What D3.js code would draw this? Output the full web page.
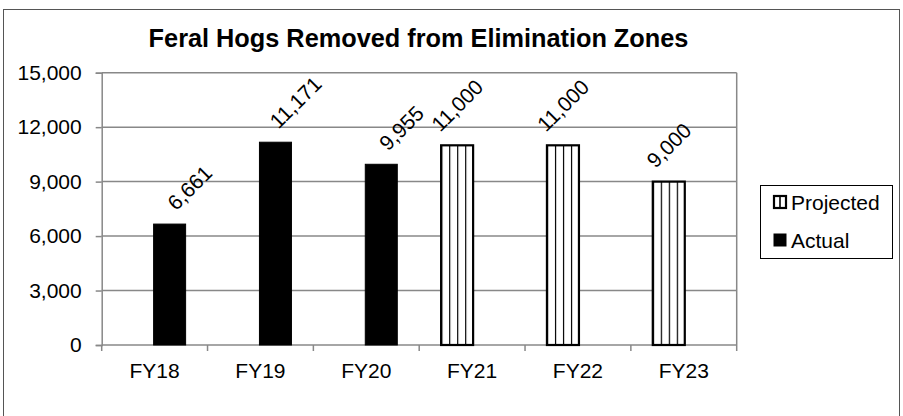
<!DOCTYPE html>
<html><head><meta charset="utf-8">
<script src="https://cdn.jsdelivr.net/npm/d3@7"></script>
<style>
html,body{margin:0;padding:0;background:#fff;}
svg{display:block;font-family:Arial,"Liberation Sans",sans-serif;}
</style></head>
<body>
<svg id="c" width="903" height="416"></svg>
<script>
const title = "Feral Hogs Removed from Elimination Zones";
const categories = ["FY18","FY19","FY20","FY21","FY22","FY23"];
const seriesNames = ["Projected","Actual"];
const projected = [null,null,null,11000,11000,9000];
const actual = [6661,11171,9955,null,null,null];
const yTicks = [0,3000,6000,9000,12000,15000];

const svg = d3.select("#c");
const plot = {left:101.7, right:736.7, top:72.7, bottom:345};

// outer chart border
svg.append("rect").attr("x",3.5).attr("y",9.5).attr("width",896).attr("height",420)
  .attr("fill","#fff").attr("stroke","#555").attr("stroke-width",1);

const defs = svg.append("defs");
const pat = defs.append("pattern").attr("id","stripes")
  .attr("patternUnits","objectBoundingBox").attr("width",0.25).attr("height",1);
pat.append("rect").attr("width",40).attr("height",400).attr("fill","#fff");
pat.append("line").attr("x1",0).attr("x2",0).attr("y1",0).attr("y2",400)
  .attr("stroke","#000").attr("stroke-width",2.4);

const x = d3.scaleBand().domain(categories).range([plot.left, plot.right]).padding(0);
const y = d3.scaleLinear().domain([0,15000]).range([plot.bottom, plot.top]);
const x1 = d3.scalePoint().domain(seriesNames).range([x.bandwidth()/2-15, x.bandwidth()/2+15]);
const barW = 32;

// gridlines
svg.append("g").selectAll("line").data(yTicks.filter(d=>d>0)).join("line")
  .attr("x1",plot.left).attr("x2",plot.right)
  .attr("y1",d=>y(d)).attr("y2",d=>y(d))
  .attr("stroke","#888").attr("stroke-width",1.5);
svg.append("line").attr("x1",plot.right).attr("x2",plot.right)
  .attr("y1",plot.top).attr("y2",plot.bottom).attr("stroke","#888").attr("stroke-width",1.5);

// y axis
const yAxis = d3.axisLeft(y).tickValues(yTicks).tickFormat(d3.format(",")).tickSize(6).tickPadding(14);
const gy = svg.append("g").attr("transform",`translate(${plot.left},0)`).call(yAxis);
gy.select(".domain").attr("stroke","#888").attr("stroke-width",1.5);
gy.selectAll(".tick line").attr("stroke","#888").attr("stroke-width",1.5);
gy.selectAll("text").attr("font-size",21).attr("fill","#000").attr("font-family","Arial,'Liberation Sans',sans-serif");

// x axis
const gx = svg.append("g").attr("transform",`translate(0,${plot.bottom})`);
gx.append("line").attr("x1",plot.left).attr("x2",plot.right).attr("y1",0).attr("y2",0)
  .attr("stroke","#888").attr("stroke-width",1.5);
const bounds = categories.map(c=>x(c)).concat([plot.right]);
gx.selectAll("line.t").data(bounds).join("line").attr("class","t")
  .attr("x1",d=>d).attr("x2",d=>d).attr("y1",0).attr("y2",6)
  .attr("stroke","#888").attr("stroke-width",1.5);
gx.selectAll("text").data(categories).join("text")
  .attr("x",d=>x(d)+x.bandwidth()/2).attr("y",33)
  .attr("text-anchor","middle").attr("font-size",21).attr("fill","#000").text(d=>d);

// bars
const rows = [];
categories.forEach((c,i)=>{
  if (projected[i]!=null) rows.push({c, s:"Projected", v:projected[i]});
  if (actual[i]!=null) rows.push({c, s:"Actual", v:actual[i]});
});
svg.append("g").selectAll("rect").data(rows).join("rect")
  .attr("x",d=>x(d.c)+x1(d.s)-barW/2)
  .attr("y",d=>y(d.v))
  .attr("width",barW)
  .attr("height",d=>y(0)-y(d.v))
  .attr("fill",d=>d.s==="Actual"?"#000":"url(#stripes)")
  .attr("stroke","#000")
  .attr("stroke-width",d=>d.s==="Actual"?1:2.2);

// data labels
const fmt = d3.format(",");
const lbl = svg.append("g").selectAll("text").data(rows).join("text")
  .attr("font-size",21).attr("fill","#000").attr("text-anchor","middle")
  .attr("dominant-baseline","central").text(d=>fmt(d.v));
lbl.each(function(d){
  const w = this.getComputedTextLength();
  const half = (w+15)/(2*Math.SQRT2);
  const cx = x(d.c)+x1(d.s) + (d.s==="Actual"?20:0);
  const cy = y(d.v) - 12.5 - half;
  d3.select(this).attr("transform",`translate(${cx},${cy}) rotate(-45)`);
});

// title
svg.append("text").attr("x",418.5).attr("y",47).attr("text-anchor","middle")
  .attr("font-size",25.3).attr("font-weight","bold").attr("fill","#000").text(title);

// legend
const lg = svg.append("g");
lg.append("rect").attr("x",760.5).attr("y",185.5).attr("width",132).attr("height",73)
  .attr("fill","#fff").attr("stroke","#000").attr("stroke-width",1);
const legY = d3.scalePoint().domain(seriesNames).range([202,240]);
lg.selectAll("rect.sw").data(seriesNames).join("rect").attr("class","sw")
  .attr("x",774).attr("y",d=>legY(d)-6).attr("width",12).attr("height",12)
  .attr("fill",d=>d==="Actual"?"#000":"#fff")
  .attr("stroke","#000").attr("stroke-width",d=>d==="Actual"?1:2.2);
lg.selectAll("line.sw").data(seriesNames.filter(s=>s==="Projected")).join("line").attr("class","sw")
  .attr("x1",780).attr("x2",780).attr("y1",d=>legY(d)-6).attr("y2",d=>legY(d)+6)
  .attr("stroke","#000").attr("stroke-width",1.6);
lg.selectAll("text").data(seriesNames).join("text")
  .attr("x",791).attr("y",d=>legY(d)+8).attr("font-size",21).attr("fill","#000").text(d=>d);
</script>
</body></html>
